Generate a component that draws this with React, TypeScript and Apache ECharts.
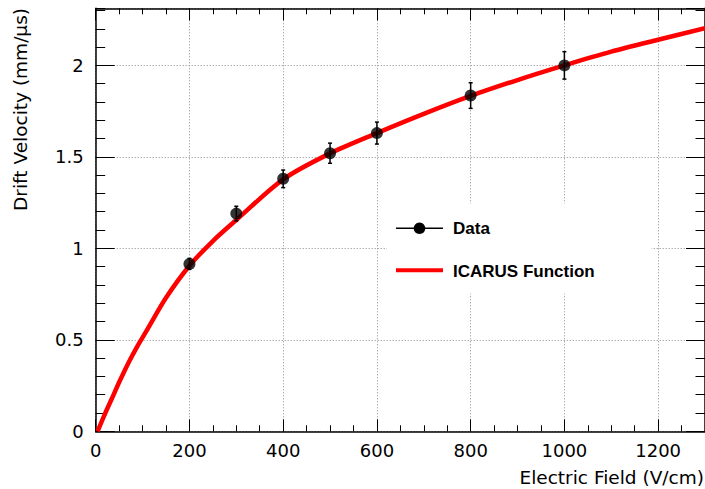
import React, { useEffect, useRef } from "react";
import * as echarts from "echarts";

// Measured drift velocity points (E in V/cm, v in mm/µs) with their uncertainties
const fieldValues = [200, 300, 400, 500, 600, 800, 1000];
const velocityValues = [0.915, 1.19, 1.38, 1.52, 1.63, 1.835, 2.0];
const velocityErrors = [0.03, 0.04, 0.048, 0.055, 0.06, 0.07, 0.075];

// ICARUS parameterisation sampled along the field axis
const curveField = [4, 20, 35, 50, 70, 90, 110, 150, 200, 250, 300, 400, 500, 600, 700, 800, 900, 1000, 1100, 1200, 1300];
const curveVelocity = [0, 0.097, 0.182, 0.268, 0.375, 0.47, 0.556, 0.73, 0.905, 1.04, 1.155, 1.377, 1.519, 1.63, 1.735, 1.833, 1.92, 2.0, 2.075, 2.14, 2.203];

// Axis ranges and tick spacing
const xRange = [0, 1300];
const yRange = [0, 2.312];
const xMajor = 200;
const xMinor = 50;
const yMajor = 0.5;
const yMinor = 0.1;

const xTitle = "Electric Field (V/cm)";
const yTitle = "Drift Velocity (mm/µs)";
const legendLabels = ["Data", "ICARUS Function"];

const tickFont = '"DejaVu Sans"';

const onStep = (v: number, step: number) => Math.abs(v / step - Math.round(v / step)) < 1e-6;

function xAxisDef(position: "top" | "bottom", step: number, len: number, main: boolean) {
  return {
    type: "value",
    position,
    min: xRange[0],
    max: xRange[1],
    interval: step,
    axisLine: { show: main, onZero: false, lineStyle: { color: "#000", width: 1.5 } },
    axisTick: { show: true, inside: true, length: len, lineStyle: { color: "#000", width: 1 } },
    axisLabel: {
      show: main && position === "bottom",
      showMaxLabel: false,
      margin: 10,
      color: "#000",
      fontFamily: tickFont,
      fontSize: 18,
      formatter: (v: number) => (onStep(v, xMajor) ? String(v) : ""),
    },
    splitLine: {
      show: main && position === "bottom",
      lineStyle: { color: "#8a8a8a", width: 1, type: [1, 2] },
    },
  };
}

function yAxisDef(position: "left" | "right", step: number, len: number, main: boolean) {
  return {
    type: "value",
    position,
    min: yRange[0],
    max: yRange[1],
    interval: step,
    axisLine: { show: main, onZero: false, lineStyle: { color: "#000", width: 1.5 } },
    axisTick: { show: true, inside: true, length: len, lineStyle: { color: "#000", width: 1 } },
    axisLabel: {
      show: main && position === "left",
      showMaxLabel: false,
      margin: 12,
      color: "#000",
      fontFamily: tickFont,
      fontSize: 18,
      formatter: (v: number) => (onStep(v, yMajor) ? String(Math.round(v / yMajor) * yMajor) : ""),
    },
    splitLine: {
      show: main && position === "left",
      lineStyle: { color: "#8a8a8a", width: 1, type: [1, 2] },
    },
  };
}

export default function App() {
  const ref = useRef<HTMLDivElement>(null);

  useEffect(() => {
    if (!ref.current) return;
    const chart = echarts.init(ref.current, null, { renderer: "svg" });

    const points = fieldValues.map((f, i) => [f, velocityValues[i]]);
    const bars = fieldValues.map((f, i) => [f, velocityValues[i], velocityErrors[i]]);
    const curve = curveField.map((f, i) => [f, curveVelocity[i]]);

    chart.setOption({
      animation: false,
      backgroundColor: "#fff",
      grid: { left: 95.7, right: -2, top: 8.3, bottom: 57.7 },
      xAxis: [
        xAxisDef("bottom", xMajor, 12, true),
        xAxisDef("bottom", xMinor, 6, false),
        xAxisDef("top", xMajor, 12, true),
        xAxisDef("top", xMinor, 6, false),
      ],
      yAxis: [
        yAxisDef("left", yMajor, 19, true),
        yAxisDef("left", yMinor, 9.5, false),
        yAxisDef("right", yMajor, 19, true),
        yAxisDef("right", yMinor, 9.5, false),
      ],
      series: [
        {
          name: legendLabels[1],
          type: "line",
          data: curve,
          showSymbol: false,
          smooth: 0.3,
          lineStyle: { color: "#ff0000", width: 4.5 },
          z: 2,
        },
        {
          name: legendLabels[0] + " errors",
          type: "custom",
          data: bars,
          z: 4,
          renderItem: (_p: any, api: any) => {
            const x = api.value(0);
            const y = api.value(1);
            const e = api.value(2);
            const hi = api.coord([x, y + e]);
            const lo = api.coord([x, y - e]);
            const st = { stroke: "#000", lineWidth: 1.5 };
            return {
              type: "group",
              children: [
                { type: "line", shape: { x1: hi[0], y1: hi[1], x2: lo[0], y2: lo[1] }, style: st },
                { type: "line", shape: { x1: hi[0] - 2, y1: hi[1], x2: hi[0] + 2, y2: hi[1] }, style: st },
                { type: "line", shape: { x1: lo[0] - 2, y1: lo[1], x2: lo[0] + 2, y2: lo[1] }, style: st },
              ],
            };
          },
        },
        {
          name: legendLabels[0],
          type: "scatter",
          data: points,
          symbol: "circle",
          symbolSize: 12,
          itemStyle: { color: "#000" },
          z: 5,
        },
      ],
      graphic: [
        {
          type: "text",
          x: 704,
          y: 477,
          z: 60,
          style: {
            text: xTitle,
            fill: "#000",
            font: '18.5px "DejaVu Sans"',
            align: "right",
            verticalAlign: "middle",
          },
        },
        {
          type: "text",
          x: 20,
          y: 8,
          rotation: Math.PI / 2,
          z: 60,
          style: {
            text: yTitle,
            fill: "#000",
            font: '18.5px "DejaVu Sans"',
            align: "right",
            verticalAlign: "middle",
          },
        },
        // legend box
        {
          type: "rect",
          z: 50,
          shape: { x: 387, y: 203.5, width: 264.5, height: 90 },
          style: { fill: "#fff" },
        },
        {
          type: "line",
          z: 51,
          shape: { x1: 396, y1: 228.3, x2: 443, y2: 228.3 },
          style: { stroke: "#000", lineWidth: 1.5 },
        },
        {
          type: "circle",
          z: 52,
          shape: { cx: 419.5, cy: 228.3, r: 5.8 },
          style: { fill: "#000" },
        },
        {
          type: "text",
          z: 52,
          x: 453,
          y: 228,
          style: {
            text: legendLabels[0],
            fill: "#000",
            font: 'bold 17px "Liberation Sans"',
            align: "left",
            verticalAlign: "middle",
          },
        },
        {
          type: "rect",
          z: 51,
          shape: { x: 396, y: 268.3, width: 47, height: 4 },
          style: { fill: "#ff0000" },
        },
        {
          type: "text",
          z: 52,
          x: 453,
          y: 271,
          style: {
            text: legendLabels[1],
            fill: "#000",
            font: 'bold 17px "Liberation Sans"',
            align: "left",
            verticalAlign: "middle",
          },
        },
      ],
    });

    return () => chart.dispose();
  }, []);

  return (
    <div
      ref={ref}
      style={{ position: "fixed", left: 0, top: 0, width: 705, height: 489, background: "#fff" }}
    />
  );
}
